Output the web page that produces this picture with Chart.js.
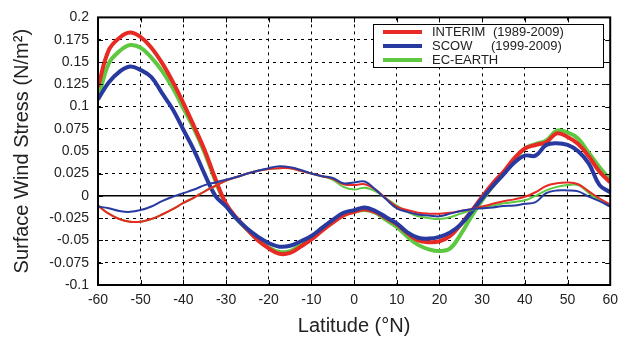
<!DOCTYPE html>
<html>
<head>
<meta charset="utf-8">
<script src="https://cdn.jsdelivr.net/npm/chart.js@4.4.0/dist/chart.umd.min.js"></script>
<style>
  html, body { margin: 0; padding: 0; background: #fff; }
  #wrap { width: 625px; height: 338px; position: relative; }
</style>
</head>
<body>
<div id="wrap"><canvas id="chart"></canvas></div>
<script>
const latitudes = [-60, -57.5, -55, -52.5, -50, -47.5, -45, -42.5, -40, -37.5, -35, -32.5, -30, -27.5, -25, -22.5, -20, -17.5, -15, -12.5, -10, -7.5, -5, -2.5, 0, 2.5, 5, 7.5, 10, 12.5, 15, 17.5, 20, 22.5, 25, 27.5, 30, 32.5, 35, 37.5, 40, 42.5, 45, 47.5, 50, 52.5, 55, 57.5, 60];

// zonal component (thick lines)
const interimZonal = [0.122, 0.163, 0.177, 0.183, 0.178, 0.166, 0.149, 0.128, 0.104, 0.078, 0.051, 0.019, -0.009, -0.025, -0.038, -0.050, -0.059, -0.065, -0.064, -0.057, -0.049, -0.039, -0.030, -0.022, -0.018, -0.015, -0.018, -0.025, -0.032, -0.042, -0.050, -0.052, -0.051, -0.045, -0.032, -0.017, -0.001, 0.014, 0.027, 0.042, 0.053, 0.057, 0.060, 0.070, 0.066, 0.058, 0.044, 0.027, 0.015];
const scowZonal = [0.108, 0.127, 0.139, 0.145, 0.141, 0.133, 0.115, 0.097, 0.074, 0.051, 0.024, 0.000, -0.012, -0.026, -0.037, -0.046, -0.053, -0.057, -0.056, -0.051, -0.045, -0.036, -0.027, -0.019, -0.016, -0.013, -0.017, -0.024, -0.031, -0.041, -0.047, -0.048, -0.046, -0.041, -0.032, -0.018, -0.003, 0.011, 0.024, 0.037, 0.045, 0.045, 0.057, 0.059, 0.057, 0.050, 0.036, 0.012, 0.004];
const ecearthZonal = [0.108, 0.148, 0.162, 0.169, 0.166, 0.155, 0.140, 0.121, 0.098, 0.075, 0.048, 0.017, -0.010, -0.026, -0.038, -0.049, -0.058, -0.063, -0.062, -0.055, -0.046, -0.036, -0.028, -0.021, -0.018, -0.016, -0.019, -0.027, -0.035, -0.046, -0.055, -0.060, -0.062, -0.059, -0.043, -0.023, -0.005, 0.011, 0.025, 0.040, 0.053, 0.058, 0.062, 0.073, 0.071, 0.064, 0.048, 0.032, 0.018];

// meridional component (thin lines)
const interimMerid = [-0.011, -0.020, -0.026, -0.029, -0.029, -0.026, -0.021, -0.015, -0.008, -0.002, 0.005, 0.011, 0.017, 0.021, 0.025, 0.028, 0.030, 0.031, 0.031, 0.028, 0.025, 0.022, 0.019, 0.013, 0.012, 0.013, 0.007, -0.003, -0.012, -0.016, -0.019, -0.020, -0.020, -0.019, -0.017, -0.015, -0.012, -0.009, -0.006, -0.004, -0.001, 0.004, 0.011, 0.014, 0.015, 0.013, 0.005, -0.003, -0.010];
const scowMerid = [-0.012, -0.014, -0.017, -0.018, -0.016, -0.012, -0.006, -0.001, 0.003, 0.007, 0.012, 0.015, 0.018, 0.021, 0.025, 0.028, 0.031, 0.033, 0.032, 0.029, 0.025, 0.022, 0.020, 0.014, 0.015, 0.016, 0.007, -0.004, -0.014, -0.018, -0.021, -0.022, -0.023, -0.020, -0.017, -0.015, -0.014, -0.013, -0.0115, -0.011, -0.009, -0.007, 0.003, 0.006, 0.006, 0.005, -0.001, -0.006, -0.012];
const ecearthMerid = [-0.011, -0.020, -0.026, -0.029, -0.029, -0.026, -0.021, -0.015, -0.008, -0.002, 0.005, 0.011, 0.017, 0.021, 0.025, 0.028, 0.030, 0.031, 0.031, 0.028, 0.025, 0.022, 0.018, 0.010, 0.007, 0.009, 0.005, -0.003, -0.011, -0.018, -0.023, -0.025, -0.026, -0.024, -0.020, -0.016, -0.013, -0.011, -0.0085, -0.007, -0.005, 0.000, 0.006, 0.010, 0.012, 0.012, 0.003, -0.005, -0.012];

const xTicks = [-60, -50, -40, -30, -20, -10, 0, 10, 20, 30, 40, 50, 60];
const yTicks = [-0.1, -0.075, -0.05, -0.025, 0, 0.025, 0.05, 0.075, 0.1, 0.125, 0.15, 0.175, 0.2];

const legendNames = ['INTERIM', 'SCOW', 'EC-EARTH'];
const legendPeriods = ['(1989-2009)', '(1999-2009)', ''];

const RED = 'rgb(232, 42, 36)';
const BLUE = 'rgb(40, 58, 160)';
const GREEN = 'rgb(94, 200, 64)';
const FONT = "'Liberation Sans', Arial, Helvetica, sans-serif";

function pts(values) {
    return latitudes.map((lat, i) => ({ x: lat, y: values[i] }));
}

function line(label, values, color, width) {
    return {
        label: label,
        data: pts(values),
        borderColor: color,
        backgroundColor: color,
        borderWidth: width,
        pointRadius: 0,
        tension: 0.4,
        fill: false
    };
}

// zero line, inner tick marks, frame and the boxed legend
const framePlugin = {
    id: 'frame',
    beforeDatasetsDraw(chart) {
        const ctx = chart.ctx;
        const area = chart.chartArea;
        const y0 = chart.scales.y.getPixelForValue(0);
        ctx.save();
        ctx.strokeStyle = '#000';
        ctx.lineWidth = 1.5;
        ctx.beginPath();
        ctx.moveTo(area.left, y0);
        ctx.lineTo(area.right, y0);
        ctx.stroke();
        ctx.restore();
    },
    afterDatasetsDraw(chart) {
        const ctx = chart.ctx;
        const area = chart.chartArea;
        const xs = chart.scales.x, ys = chart.scales.y;
        ctx.save();
        ctx.strokeStyle = '#000';
        ctx.lineWidth = 1;
        ctx.beginPath();
        xTicks.forEach(v => {
            const px = Math.round(xs.getPixelForValue(v)) + 0.5;
            ctx.moveTo(px, area.bottom); ctx.lineTo(px, area.bottom - 5);
            ctx.moveTo(px, area.top); ctx.lineTo(px, area.top + 5);
        });
        yTicks.forEach(v => {
            const py = Math.round(ys.getPixelForValue(v)) + 0.5;
            ctx.moveTo(area.left, py); ctx.lineTo(area.left + 5, py);
            ctx.moveTo(area.right, py); ctx.lineTo(area.right - 5, py);
        });
        ctx.stroke();
        ctx.lineWidth = 2;
        ctx.strokeRect(area.left, area.top, area.right - area.left, area.bottom - area.top);
        ctx.restore();
    },
    afterDraw(chart) {
        const ctx = chart.ctx;
        const colors = [RED, BLUE, GREEN];
        const bx = 373, by = 24, bw = 230, bh = 43;
        ctx.save();
        ctx.fillStyle = '#fff';
        ctx.fillRect(bx, by, bw, bh);
        ctx.strokeStyle = '#000';
        ctx.lineWidth = 1;
        ctx.strokeRect(bx + 0.5, by + 0.5, bw, bh);
        ctx.font = '13px ' + FONT;
        ctx.textBaseline = 'middle';
        legendNames.forEach((name, i) => {
            const ly = by + 8 + i * 14;
            ctx.strokeStyle = colors[i];
            ctx.lineWidth = 4;
            ctx.beginPath();
            ctx.moveTo(383, ly);
            ctx.lineTo(422, ly);
            ctx.stroke();
            ctx.fillStyle = '#222';
            ctx.fillText(name, 432, ly + 0.5);
            if (legendPeriods[i]) {
                ctx.fillText(legendPeriods[i], i === 0 ? 493 : 491, ly + 0.5);
            }
        });
        ctx.restore();
    }
};

new Chart(document.getElementById('chart').getContext('2d'), {
    type: 'line',
    data: {
        datasets: [
            line('SCOW meridional', scowMerid, BLUE, 2),
            line('INTERIM meridional', interimMerid, RED, 2),
            line('EC-EARTH meridional', ecearthMerid, GREEN, 2),
            line('SCOW', scowZonal, BLUE, 4),
            line('INTERIM', interimZonal, RED, 4),
            line('EC-EARTH', ecearthZonal, GREEN, 4)
        ]
    },
    options: {
        responsive: true,
        maintainAspectRatio: false,
        animation: false,
        layout: { padding: { top: 17, right: 13, left: 0, bottom: 0 } },
        plugins: {
            legend: { display: false },
            tooltip: { enabled: false }
        },
        scales: {
            x: {
                type: 'linear',
                min: -60,
                max: 60,
                afterBuildTicks: axis => { axis.ticks = xTicks.map(v => ({ value: v })); },
                afterFit: axis => { axis.height = 53; },
                grid: { color: '#000', lineWidth: 1, drawTicks: false },
                border: { display: false, dash: [3, 4] },
                ticks: {
                    color: '#222',
                    padding: 7,
                    maxRotation: 0,
                    font: { family: FONT, size: 14 }
                },
                title: {
                    display: true,
                    text: 'Latitude (°N)',
                    color: '#222',
                    padding: { top: 2, bottom: 0 },
                    font: { family: FONT, size: 20 }
                }
            },
            y: {
                type: 'linear',
                min: -0.1,
                max: 0.2,
                afterBuildTicks: axis => { axis.ticks = yTicks.map(v => ({ value: v })); },
                afterFit: axis => { axis.width = 98; },
                grid: { color: '#000', lineWidth: 1, drawTicks: false },
                border: { display: false, dash: [3, 4] },
                ticks: {
                    color: '#222',
                    padding: 9,
                    font: { family: FONT, size: 14 },
                    callback: v => parseFloat(Number(v).toFixed(3)).toString()
                },
                title: {
                    display: true,
                    text: 'Surface Wind Stress (N/m²)',
                    color: '#222',
                    padding: { top: 10, bottom: 0 },
                    font: { family: FONT, size: 20 }
                }
            }
        }
    },
    plugins: [framePlugin]
});
</script>
</body>
</html>
